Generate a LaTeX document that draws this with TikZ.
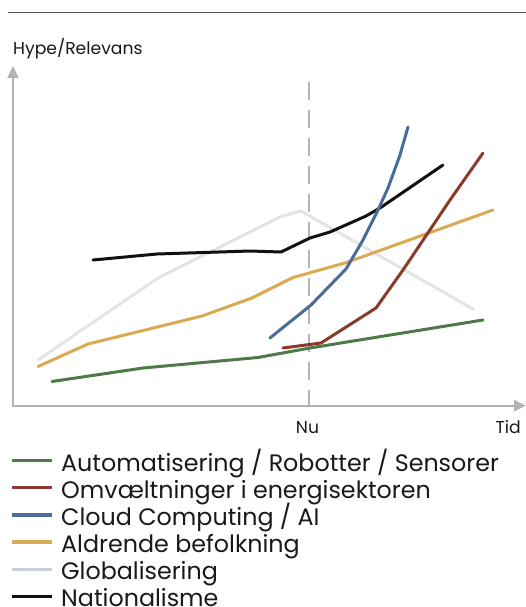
\documentclass[tikz,border=0pt]{standalone}
\usepackage{fontspec}
\setmainfont{Poppins}
\usetikzlibrary{arrows.meta}
\definecolor{cgreen}{HTML}{4E7A47}
\definecolor{cred}{HTML}{8A3A2C}
\definecolor{cblue}{HTML}{4B6B9A}
\definecolor{cgold}{HTML}{DBA952}
\definecolor{cglob}{HTML}{E4E4E4}
\definecolor{cglobleg}{HTML}{C8D0DC}
\definecolor{cblack}{HTML}{111111}
\definecolor{caxis}{HTML}{B3B3B3}
\definecolor{ctop}{HTML}{555555}
\tikzset{
  curve/.style={line width=3pt, line join=round, line cap=round},
  axisline/.style={draw=caxis, line width=2.2pt, -{Triangle[length=12pt,width=11pt]}},
  legline/.style={line width=3.2pt},
  legtext/.style={anchor=base west, inner sep=0pt, font=\fontsize{23.8}{26}\selectfont, text=black!90},
  axlabel/.style={inner sep=0pt, font=\fontsize{17.2}{19}\selectfont, text=black!90}
}
\begin{document}
\begin{tikzpicture}[x=1pt,y=-1pt]
\useasboundingbox (0,0) rectangle (526,607);
% top rule
\coordinate (tl) at (8,12.5);
\coordinate (tr) at (526,12.5);
\draw[ctop, line width=1.6pt] (tl) -- (tr);
% axes
\coordinate (origin) at (13,405.7);
\coordinate (ytip) at (13,66);
\coordinate (xtip) at (526,405.7);
\draw[axisline] (origin) -- (ytip);
\draw[axisline] ([xshift=-1pt]origin) -- (xtip);
\node[axlabel, anchor=base west] (ylab) at (13,55) {Hype/Relevans};
% now marker
\coordinate (nutop) at (309,82);
\coordinate (nubot) at (309,405);
\draw[caxis, line width=2.6pt, dash pattern=on 18pt off 10pt] (nutop) -- (nubot);
\node[axlabel, anchor=base] (nu) at (307.5,433.3) {Nu};
\node[axlabel, anchor=base east] (tid) at (521,433.3) {Tid};
% curves
\draw[curve, cglob] (38,360) -- (158,278) -- (280,217) -- (301,211) -- (473,309);
\draw[curve, cgreen] (52,381.5) -- (143,368) -- (258,357.5) -- (310,348) -- (483,320);
\draw[curve, cgold] (38,366.5) -- (88,344) -- (137,332) -- (202,316) -- (252,298) -- (293,277.5) -- (345,263) -- (493,210);
\draw[curve, cblack] (93,260) -- (157,254) -- (250,251) -- (281,252) -- (310,238) -- (330,232) -- (366,216) -- (380,208) -- (443,165);
\draw[curve, cred] (283,348) -- (321,343) -- (376,308) -- (403,270) -- (450,200) -- (483,153);
\draw[curve, cblue] (270,338) -- (311,305) -- (346,269) -- (363,240) -- (378,210) -- (388,188) -- (400,155) -- (408,127);
% legend
\foreach \i/\col/\txt in {0/cgreen/{Automatisering / Robotter / Sensorer},
                          1/cred/{Omvæltninger i energisektoren},
                          2/cblue/{Cloud Computing / AI},
                          3/cgold/{Aldrende befolkning},
                          4/cglobleg/{Globalisering},
                          5/cblack/{Nationalisme}}{
  \coordinate (la\i) at (12,460.7+27.1*\i);
  \coordinate (lb\i) at (52,460.7+27.1*\i);
  \draw[legline, \col] (la\i) -- (lb\i);
  \node[legtext] (lt\i) at (61,471.2+27.1*\i) {\txt};
}
\end{tikzpicture}
\end{document}
